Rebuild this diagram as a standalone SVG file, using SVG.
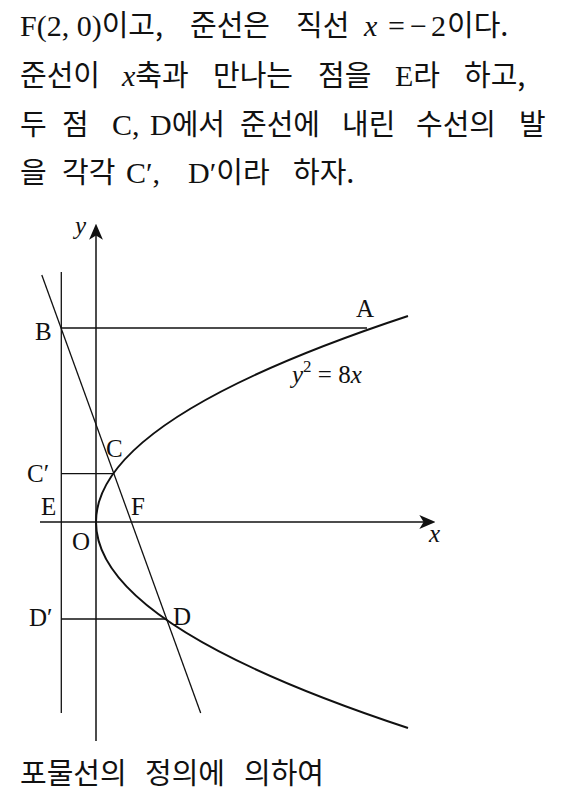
<svg xmlns="http://www.w3.org/2000/svg" width="564" height="796" viewBox="0 0 564 796">
<style>
.t{font-family:"Noto Sans CJK KR",sans-serif;font-size:29px;fill:#111}
.l{font-family:"Liberation Serif",serif;font-size:30px}
.lb{font-family:"Liberation Serif",serif;font-size:25px;fill:#111}
.it{font-style:italic}
.ln{stroke:#111;stroke-width:1.3;fill:none}
.ax{stroke:#111;stroke-width:1.5;fill:none}
.cv{stroke:#111;stroke-width:2;fill:none}
</style>
<defs>
<marker id="arr" markerUnits="userSpaceOnUse" markerWidth="16" markerHeight="14" viewBox="0 0 15 13" refX="10" refY="6.5" orient="auto">
<path d="M0,0 L15,6.5 L0,13 L4,6.5 Z" fill="#111"/>
</marker>
</defs>
<g id="text">
<text class="t" y="36"><tspan class="l" x="20">F(2, 0)</tspan><tspan>이고,</tspan><tspan x="190">준선은</tspan><tspan x="296">직선</tspan><tspan class="l it" x="364">x</tspan><tspan class="l" x="388">=</tspan><tspan class="l" x="410">−</tspan><tspan class="l" x="431">2</tspan><tspan x="447">이다.</tspan></text>
<text class="t" y="86"><tspan x="20">준선이</tspan><tspan class="l it" x="122">x</tspan><tspan>축과</tspan><tspan x="213">만나는</tspan><tspan x="318">점을</tspan><tspan class="l" x="395">E</tspan><tspan>라</tspan><tspan x="464">하고,</tspan></text>
<text class="t" y="135"><tspan x="20">두</tspan><tspan x="62">점</tspan><tspan class="l" x="112">C,</tspan><tspan class="l" x="150">D</tspan><tspan>에서</tspan><tspan x="240">준선에</tspan><tspan x="342">내린</tspan><tspan x="416">수선의</tspan><tspan x="519">발</tspan></text>
<text class="t" y="183"><tspan x="20">을</tspan><tspan x="62">각각</tspan><tspan class="l" x="126">C′,</tspan><tspan class="l" x="188">D′</tspan><tspan>이라</tspan><tspan x="293">하자.</tspan></text>
<text class="t" y="784"><tspan x="20">포물선의</tspan><tspan x="145">정의에</tspan><tspan x="244">의하여</tspan></text>
</g>
<g id="connectors">
<line id="x-axis" class="ax" x1="40" y1="522" x2="430" y2="522" marker-end="url(#arr)"/>
<line id="y-axis" class="ax" x1="96" y1="741" x2="96" y2="229" marker-end="url(#arr)"/>
<line id="directrix" class="ln" x1="61.3" y1="272" x2="61.3" y2="713"/>
<line id="line-BF" class="ln" x1="41.8" y1="275" x2="200.7" y2="713"/>
<line id="BA" class="ln" x1="61.3" y1="328" x2="367" y2="328"/>
<line id="CC" class="ln" x1="61.3" y1="473.6" x2="113.2" y2="473.6"/>
<line id="DD" class="ln" x1="61.3" y1="619" x2="165.2" y2="619"/>
<path id="parabola" class="cv" d="M408,316 Q-216,522 408,728"/>
</g>
<g id="labels">
<text class="lb it" x="75" y="234">y</text>
<text class="lb" x="35" y="340">B</text>
<text class="lb" x="356" y="317">A</text>
<text class="lb" x="292" y="383"><tspan class="it">y</tspan><tspan font-size="17" dy="-11">2</tspan><tspan dy="11"> =</tspan> 8<tspan class="it">x</tspan></text>
<text class="lb" x="106" y="457">C</text>
<text class="lb" x="27" y="482">C′</text>
<text class="lb" x="41" y="515">E</text>
<text class="lb" x="131" y="515">F</text>
<text class="lb" x="72" y="550">O</text>
<text class="lb it" x="429" y="542">x</text>
<text class="lb" x="173" y="625">D</text>
<text class="lb" x="29" y="626">D′</text>
</g>
</svg>
